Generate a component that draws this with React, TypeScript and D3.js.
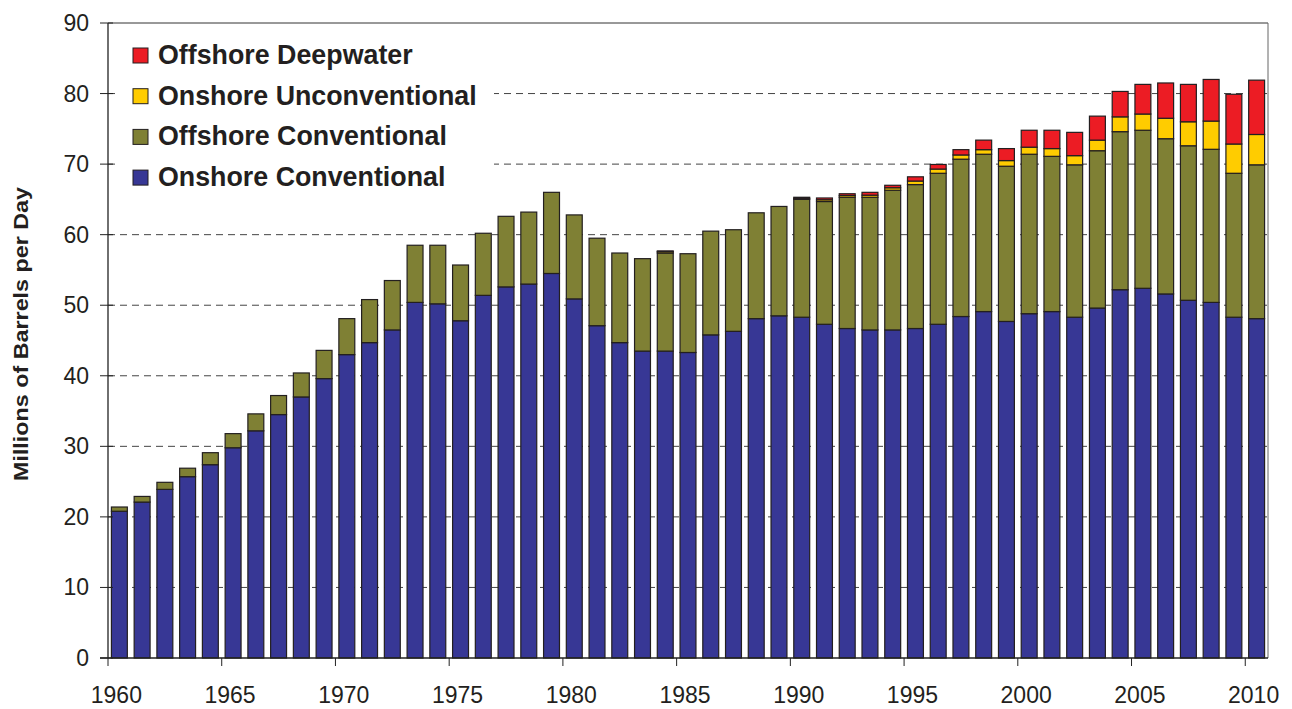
import React from 'react';
import * as d3 from 'd3';

const years = d3.range(1960, 2011);

// millions of barrels per day
const onshoreConventional = [
  20.8, 22.1, 23.9, 25.7, 27.4, 29.8, 32.2, 34.5, 37.0, 39.6,
  43.0, 44.7, 46.5, 50.4, 50.2, 47.8, 51.4, 52.6, 53.0, 54.5,
  50.9, 47.1, 44.7, 43.5, 43.5, 43.3, 45.8, 46.3, 48.1, 48.5,
  48.3, 47.3, 46.7, 46.5, 46.5, 46.7, 47.3, 48.4, 49.1, 47.7,
  48.8, 49.1, 48.3, 49.6, 52.2, 52.4, 51.6, 50.7, 50.4, 48.3,
  48.1,
];
const offshoreConventional = [
  0.6, 0.8, 1.0, 1.2, 1.7, 2.0, 2.4, 2.7, 3.4, 4.0,
  5.1, 6.1, 7.0, 8.1, 8.3, 7.9, 8.8, 10.0, 10.2, 11.5,
  11.9, 12.4, 12.7, 13.1, 13.9, 14.0, 14.7, 14.4, 15.0, 15.5,
  16.7, 17.4, 18.6, 18.8, 19.8, 20.4, 21.4, 22.3, 22.3, 22.0,
  22.6, 22.0, 21.6, 22.3, 22.4, 22.4, 22.0, 21.9, 21.7, 20.4,
  21.8,
];
const onshoreUnconventional = [
  0, 0, 0, 0, 0, 0, 0, 0, 0, 0,
  0, 0, 0, 0, 0, 0, 0, 0, 0, 0,
  0, 0, 0, 0, 0.2, 0, 0, 0, 0, 0,
  0.15, 0.25, 0.25, 0.3, 0.35, 0.5, 0.6, 0.6, 0.65, 0.8,
  1.0, 1.1, 1.3, 1.5, 2.1, 2.3, 2.9, 3.4, 4.0, 4.15,
  4.3,
];
const offshoreDeepwater = [
  0, 0, 0, 0, 0, 0, 0, 0, 0, 0,
  0, 0, 0, 0, 0, 0, 0, 0, 0, 0,
  0, 0, 0, 0, 0.1, 0, 0, 0, 0, 0,
  0.15, 0.25, 0.25, 0.4, 0.35, 0.6, 0.65, 0.75, 1.35, 1.7,
  2.4, 2.6, 3.3, 3.4, 3.6, 4.2, 5.0, 5.3, 5.9, 7.05,
  7.7,
];

const seriesKeys = ['onshoreConv', 'offshoreConv', 'onshoreUnconv', 'offshoreDeep'];
const seriesNames = ['Onshore Conventional', 'Offshore Conventional', 'Onshore Unconventional', 'Offshore Deepwater'];
const seriesColors = ['#373795', '#7f8034', '#ffcc00', '#ec1c24'];
const yTicks = [0, 10, 20, 30, 40, 50, 60, 70, 80, 90];
const xTickYears = [1960, 1965, 1970, 1975, 1980, 1985, 1990, 1995, 2000, 2005, 2010];

const W = 1292;
const H = 709;
const left = 108;
const right = 1268;
const top = 23;
const bottom = 658;
const font = '"Liberation Sans", Arial, sans-serif';

export default function App() {
  const rows = years.map((y, i) => ({
    year: y,
    onshoreConv: onshoreConventional[i],
    offshoreConv: offshoreConventional[i],
    onshoreUnconv: onshoreUnconventional[i],
    offshoreDeep: offshoreDeepwater[i],
  }));
  const stacked = d3.stack<any>().keys(seriesKeys)(rows);

  const x = d3.scaleBand<number>()
    .domain(years)
    .range([left, right])
    .paddingInner(0.3)
    .paddingOuter(0.15);
  const y = d3.scaleLinear().domain([0, 90]).range([bottom, top]);
  const step = x.step();
  const tickX = (yr: number) => (x(yr) as number) - (step * 0.3) / 2;

  // legend sits on a white box that hides the top gridlines
  const legendRows = [3, 2, 1, 0];

  return (
    <svg width={W} height={H} style={{ position: 'absolute', left: 0, top: 0, background: '#fff' }}>
      {/* gridlines */}
      {yTicks.filter(t => t > 0 && t < 90).map(t => (
        <line key={'g' + t} x1={left} x2={right} y1={y(t)} y2={y(t)}
          stroke="#444" strokeWidth={1} strokeDasharray="7,5" />
      ))}
      <rect x={116} y={34} width={378} height={160} fill="#fff" />

      {/* bars */}
      {stacked.map((s, si) => (
        <g key={s.key} fill={seriesColors[si]} stroke="#231f20" strokeWidth={1.2}>
          {s.filter(d => d[1] - d[0] > 0).map(d => (
            <rect key={d.data.year}
              x={x(d.data.year)}
              y={y(d[1])}
              width={x.bandwidth()}
              height={y(d[0]) - y(d[1])} />
          ))}
        </g>
      ))}

      {/* frame */}
      <line x1={left} x2={right} y1={top} y2={top} stroke="#333" strokeWidth={1} />
      <line x1={right} x2={right} y1={top} y2={bottom} stroke="#666" strokeWidth={1} />
      <line x1={left} x2={left} y1={top} y2={bottom} stroke="#222" strokeWidth={1.3} />
      <line x1={100} x2={right} y1={bottom} y2={bottom} stroke="#222" strokeWidth={1.3} />

      {/* y axis */}
      {yTicks.map(t => (
        <g key={'y' + t}>
          <line x1={100} x2={113} y1={y(t)} y2={y(t)} stroke="#222" strokeWidth={1} />
          <text x={89} y={y(t)} dy="0.35em" textAnchor="end" fontFamily={font} fontSize={23} fill="#231f20">{t}</text>
        </g>
      ))}
      <text transform={`translate(28,334) rotate(-90)`} textAnchor="middle"
        fontFamily={font} fontSize={20} fontWeight="bold" fill="#231f20"
        textLength={294} lengthAdjust="spacingAndGlyphs">Millions of Barrels per Day</text>

      {/* x axis */}
      {xTickYears.map(yr => (
        <g key={'x' + yr}>
          <line x1={tickX(yr)} x2={tickX(yr)} y1={bottom} y2={bottom + 8} stroke="#222" strokeWidth={1} />
          <text x={(x(yr) as number) + x.bandwidth() / 2 - 3} y={703} textAnchor="middle"
            fontFamily={font} fontSize={23} fill="#231f20">{yr}</text>
        </g>
      ))}

      {/* legend */}
      {legendRows.map((si, r) => (
        <g key={'l' + si} transform={`translate(133,${48 + r * 40.7})`}>
          <rect width={15} height={15} fill={seriesColors[si]} stroke="#231f20" strokeWidth={1} />
          <text x={25} y={16} fontFamily={font} fontSize={26.8} fontWeight="bold" fill="#231f20">{seriesNames[si]}</text>
        </g>
      ))}
    </svg>
  );
}
